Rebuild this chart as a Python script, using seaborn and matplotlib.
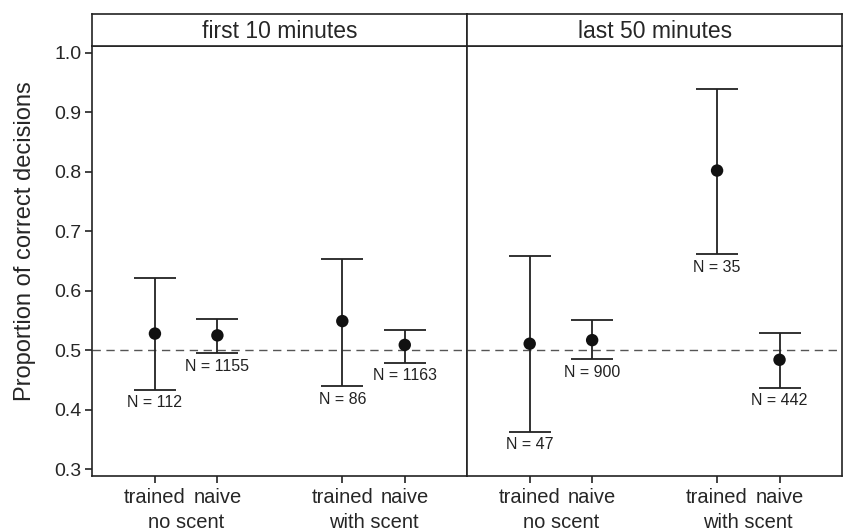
import matplotlib
matplotlib.use('Agg')
import pandas as pd
import seaborn as sns
from matplotlib import pyplot as plt

PERIODS = ['first 10 minutes', 'last 50 minutes']
SCENTS = ['no scent', 'with scent']
GROUPS = ['trained', 'naive']

# order: trained/no scent, naive/no scent, trained/with scent, naive/with scent
mean_first = [0.528, 0.525, 0.549, 0.509]
low_first = [0.434, 0.495, 0.440, 0.479]
high_first = [0.621, 0.553, 0.653, 0.534]
n_first = [112, 1155, 86, 1163]

mean_last = [0.511, 0.517, 0.802, 0.484]
low_last = [0.363, 0.485, 0.661, 0.437]
high_last = [0.658, 0.551, 0.939, 0.529]
n_last = [47, 900, 35, 442]

rows = []
for period, means, lows, highs, ns in [(PERIODS[0], mean_first, low_first, high_first, n_first),
                                       (PERIODS[1], mean_last, low_last, high_last, n_last)]:
    for i in range(4):
        rows.append(dict(period=period, scent=SCENTS[i // 2], group=GROUPS[i % 2],
                         mean=means[i], low=lows[i], high=highs[i], n=ns[i]))
df = pd.DataFrame(rows)
# trained/naive side by side, gap between scent conditions
df['x'] = df['scent'].map({s: k for k, s in enumerate(SCENTS)}) * 3 + df['group'].map({g: k for k, g in enumerate(GROUPS)}) + 1

sns.set_style('ticks')
plt.rcParams['font.family'] = ['Liberation Sans', 'DejaVu Sans']
plt.rcParams['axes.linewidth'] = 1.2
plt.rcParams['axes.edgecolor'] = '#222222'


def draw_panel(data, **kws):
    ax = plt.gca()
    ax.axhline(0.5, color='#555555', lw=1.0, ls=(0, (6, 4)), zorder=1)
    ax.errorbar(data['x'], data['mean'],
                yerr=[data['mean'] - data['low'], data['high'] - data['mean']],
                fmt='none', ecolor='#222222', elinewidth=1.3, capsize=15, capthick=1.3, zorder=2)
    sns.scatterplot(data=data, x='x', y='mean', ax=ax, color='#111111', s=80,
                    edgecolor='none', zorder=3, legend=False)
    for _, r in data.iterrows():
        ax.annotate(f"N = {r['n']}", (r['x'], r['low']), xytext=(0, -4), textcoords='offset points',
                    ha='center', va='top', fontsize=11.5, color='#222222')


g = sns.FacetGrid(df, col='period', col_order=PERIODS, sharey=True, despine=False, height=5, aspect=0.8)
g.map_dataframe(draw_panel)
g.figure.set_size_inches(8.43, 5.31)
g.figure.subplots_adjust(left=0.1097, right=0.9988, bottom=0.1036, top=0.9128, wspace=0)
g.set_titles('')

for k, ax in enumerate(g.axes.flat):
    ax.set_xlim(0, 6)
    ax.set_ylim(0.2887, 1.0108)
    ax.set_xticks([1, 2, 4, 5])
    ax.set_xticklabels(GROUPS * 2, fontsize=14.5)
    ax.set_xlabel('')
    ax.tick_params(axis='x', length=5, width=1.2, pad=4, color='#222222')
    for j, s in enumerate(SCENTS):
        ax.annotate(s, xy=(j * 3 + 1.5, 0), xycoords=('data', 'axes fraction'), xytext=(0, -27),
                    textcoords='offset points', ha='center', va='top', fontsize=14.5)
    strip = ax.inset_axes([0, 1, 1, 0.0752])
    strip.set_xticks([])
    strip.set_yticks([])
    strip.text(0.5, 0.45, PERIODS[k], ha='center', va='center', fontsize=16.5, transform=strip.transAxes)
    if k == 0:
        ax.set_yticks([0.3, 0.4, 0.5, 0.6, 0.7, 0.8, 0.9, 1.0])
        ax.set_yticklabels(['0.3', '0.4', '0.5', '0.6', '0.7', '0.8', '0.9', '1.0'], fontsize=14)
        ax.tick_params(axis='y', length=5, width=1.2, pad=3, color='#222222')
        ax.set_ylabel('Proportion of correct decisions', fontsize=17)
        ax.yaxis.set_label_coords(-0.150, 0.546)
    else:
        ax.tick_params(axis='y', left=False, labelleft=False)
        ax.set_ylabel('')

plt.savefig('out.png', dpi=100)
